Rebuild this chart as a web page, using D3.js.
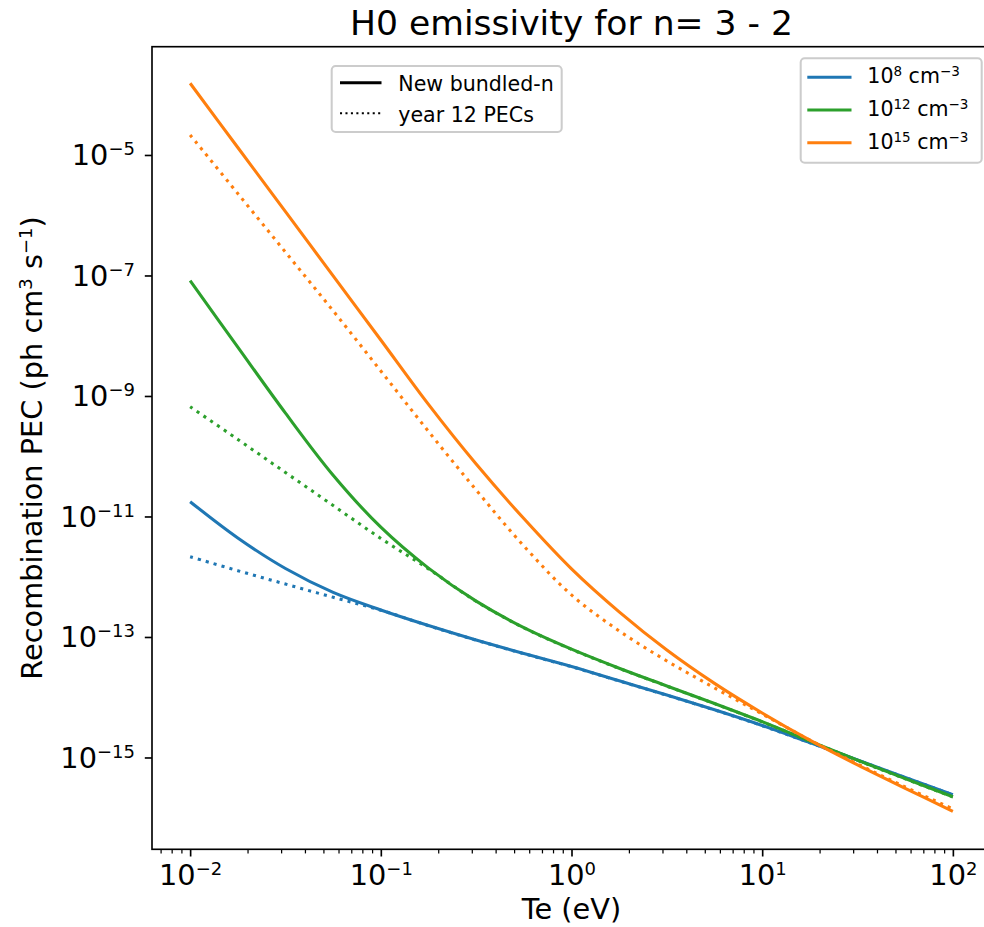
<!DOCTYPE html>
<html><head><meta charset="utf-8">
<script src="https://cdn.jsdelivr.net/npm/d3@7"></script>
<style>body{margin:0;background:#fff}svg text{font-family:"DejaVu Sans",sans-serif;fill:#000}</style>
</head><body><svg id="c" width="984" height="927"></svg>
<script>
// ---------- data ----------
const te = [0.01, 0.01778, 0.03162, 0.05623, 0.1, 0.1778, 0.3162, 0.5623, 1, 1.778, 3.162, 5.623, 10, 17.78, 31.62, 56.23, 100];
// New bundled-n (solid)
const pecNew_1e8  = [1.76e-11, 4.40e-12, 1.37e-12, 5.50e-13, 2.81e-13, 1.55e-13, 8.91e-14, 5.32e-14, 3.24e-14, 1.87e-14, 1.09e-14, 6.19e-15, 3.40e-15, 1.77e-15, 9.10e-16, 4.68e-16, 2.42e-16];
const pecNew_1e12 = [8.20e-8, 6.46e-9, 5.19e-10, 4.84e-11, 6.64e-12, 1.39e-12, 3.93e-13, 1.43e-13, 6.28e-14, 3.03e-14, 1.54e-14, 7.87e-15, 3.93e-15, 1.87e-15, 9.02e-16, 4.45e-16, 2.23e-16];
const pecNew_1e15 = [1.55e-4, 1.33e-5, 1.15e-6, 9.82e-8, 8.49e-9, 7.24e-10, 7.41e-11, 9.23e-12, 1.35e-12, 2.61e-13, 6.08e-14, 1.70e-14, 5.48e-15, 1.94e-15, 7.52e-16, 3.07e-16, 1.28e-16];
// year 12 PECs (dotted)
const pecOld_1e8  = [2.15e-12, 1.26e-12, 7.55e-13, 4.56e-13, 2.78e-13, 1.54e-13, 8.85e-14, 5.28e-14, 3.21e-14, 1.86e-14, 1.08e-14, 6.15e-15, 3.37e-15, 1.76e-15, 9.04e-16, 4.65e-16, 2.40e-16];
const pecOld_1e12 = [6.64e-10, 1.90e-10, 5.37e-11, 1.52e-11, 4.32e-12, 1.35e-12, 3.91e-13, 1.42e-13, 6.24e-14, 3.01e-14, 1.53e-14, 7.82e-15, 3.90e-15, 1.86e-15, 8.96e-16, 4.42e-16, 2.21e-16];
const pecOld_1e15 = [2.15e-5, 2.29e-6, 2.44e-7, 2.59e-8, 2.60e-9, 2.58e-10, 2.75e-11, 3.24e-12, 4.98e-13, 1.26e-13, 4.00e-14, 1.43e-14, 5.27e-15, 1.95e-15, 7.80e-16, 3.24e-16, 1.40e-16];
const densityExp = ["8", "12", "15"];
const colors = ["#1f77b4", "#2ca02c", "#ff7f0e"];
const xTickExp = ["\u22122", "\u22121", "0", "1", "2"];
const yTickExp = ["\u221215", "\u221213", "\u221211", "\u22129", "\u22127", "\u22125"];
const styleLabels = ["New bundled-n", "year 12 PECs"];

// ---------- layout ----------
const svg = d3.select("#c");
const L = 152, R = 991, T = 46.7, B = 849.3;
const S = 2.057; // px per pt
const x = d3.scaleLog().domain([Math.pow(10, -2.2), Math.pow(10, 2.2)]).range([L, R]);
const y = d3.scaleLog().domain([Math.pow(10, -16.524), Math.pow(10, -3.203)]).range([B, T]);
const lw = 1.5 * S;
const dots = `${1.5 * S},${2.475 * S}`;

svg.append("defs").append("clipPath").attr("id", "clip")
  .append("rect").attr("x", L).attr("y", T).attr("width", R - L).attr("height", B - T);

const line = d3.line().x(d => x(d[0])).y(d => y(d[1])).curve(d3.curveCatmullRom.alpha(0.5));
const newSets = [pecNew_1e8, pecNew_1e12, pecNew_1e15];
const oldSets = [pecOld_1e8, pecOld_1e12, pecOld_1e15];
const plot = svg.append("g").attr("clip-path", "url(#clip)");
newSets.forEach((vals, i) => {
  plot.append("path").datum(te.map((t, k) => [t, vals[k]])).attr("d", line)
    .attr("fill", "none").attr("stroke", colors[i]).attr("stroke-width", lw);
  plot.append("path").datum(te.map((t, k) => [t, oldSets[i][k]])).attr("d", line)
    .attr("fill", "none").attr("stroke", colors[i]).attr("stroke-width", lw)
    .attr("stroke-dasharray", dots).attr("stroke-linecap", "butt");
});

// ---------- axes ----------
const xMajor = [1e-2, 1e-1, 1, 10, 100];
const xMinor = [];
for (let d = -3; d <= 2; d++) for (let k = 2; k <= 9; k++) {
  const v = k * Math.pow(10, d);
  if (v > x.domain()[0] && v < x.domain()[1]) xMinor.push(v);
}
const gx = svg.append("g").attr("transform", `translate(0,${B})`);
gx.call(d3.axisBottom(x).tickValues(xMinor).tickSize(2 * S).tickFormat(() => ""));
gx.selectAll(".tick line").attr("stroke-width", 0.6 * S);
const gx2 = svg.append("g").attr("transform", `translate(0,${B})`);
gx2.call(d3.axisBottom(x).tickValues(xMajor).tickSize(3.5 * S).tickFormat(() => ""));
gx2.selectAll(".tick line").attr("stroke-width", 0.8 * S);
[gx, gx2].forEach(g => { g.select(".domain").remove(); g.selectAll(".tick text").remove(); });
gx2.selectAll(".tick").each(function (d, i) {
  const t = d3.select(this).append("text").attr("y", 35.7).attr("text-anchor", "middle")
    .attr("font-size", 28.8);
  t.append("tspan").text("10");
  t.append("tspan").attr("dy", -10).attr("font-size", 18).text(xTickExp[i]);
});

const yMajor = [1e-15, 1e-13, 1e-11, 1e-9, 1e-7, 1e-5];
const gy = svg.append("g").attr("transform", `translate(${L},0)`);
gy.call(d3.axisLeft(y).tickValues(yMajor).tickSize(3.5 * S).tickFormat(() => ""));
gy.select(".domain").remove();
gy.selectAll(".tick text").remove();
gy.selectAll(".tick line").attr("stroke-width", 0.8 * S);
gy.selectAll(".tick").each(function (d, i) {
  const t = d3.select(this).append("text").attr("x", -17).attr("y", 10).attr("text-anchor", "end")
    .attr("font-size", 28.8);
  t.append("tspan").text("10");
  t.append("tspan").attr("dy", -10).attr("font-size", 18).text(yTickExp[i]);
});

// frame
svg.append("rect").attr("x", L).attr("y", T).attr("width", R - L).attr("height", B - T)
  .attr("fill", "none").attr("stroke", "#000").attr("stroke-width", 0.8 * S);

// labels
svg.append("text").attr("x", (L + R) / 2).attr("y", 35).attr("text-anchor", "middle")
  .attr("font-size", 34.56).text("H0 emissivity for n= 3 - 2");
svg.append("text").attr("x", (L + R) / 2).attr("y", 919).attr("text-anchor", "middle")
  .attr("font-size", 28.8).text("Te (eV)");
const yl = svg.append("text").attr("transform", `translate(41.5,${(T + B) / 2}) rotate(-90)`)
  .attr("text-anchor", "middle").attr("font-size", 28.8);
yl.append("tspan").text("Recombination PEC (ph cm");
yl.append("tspan").attr("dy", -10).attr("font-size", 18).text("3");
yl.append("tspan").attr("dy", 10).text(" s");
yl.append("tspan").attr("dy", -10).attr("font-size", 18).text("\u22121");
yl.append("tspan").attr("dy", 10).text(")");

// ---------- legends ----------
function frame(x0, y0, w, h) {
  svg.append("rect").attr("x", x0).attr("y", y0).attr("width", w).attr("height", h).attr("rx", 4)
    .attr("fill", "#fff").attr("fill-opacity", 0.8).attr("stroke", "#cccccc").attr("stroke-width", 1.0 * S);
}
frame(331.7, 66, 230, 66);
[82.7, 113.3].forEach((yy, i) => {
  const l = svg.append("line").attr("x1", 340).attr("x2", 381.5).attr("y1", yy).attr("y2", yy)
    .attr("stroke", "#000").attr("stroke-width", i === 0 ? lw : 1.0 * S);
  if (i === 1) l.attr("stroke-dasharray", `${1 * S},${1.65 * S}`);
  svg.append("text").attr("x", 398.3).attr("y", yy + 8.3).attr("font-size", 20.57).text(styleLabels[i]);
});
frame(800.7, 58.3, 181, 104.4);
[77.3, 110, 142.7].forEach((yy, i) => {
  svg.append("line").attr("x1", 807.3).attr("x2", 851.5).attr("y1", yy).attr("y2", yy)
    .attr("stroke", colors[i]).attr("stroke-width", lw);
  const t = svg.append("text").attr("x", 867.3).attr("y", yy + 6).attr("font-size", 20.57);
  t.append("tspan").text("10");
  t.append("tspan").attr("dy", -7).attr("font-size", 13.5).text(densityExp[i]);
  t.append("tspan").attr("dy", 7).text(" cm");
  t.append("tspan").attr("dy", -7).attr("font-size", 13.5).text("\u22123");
});
</script></body></html>
